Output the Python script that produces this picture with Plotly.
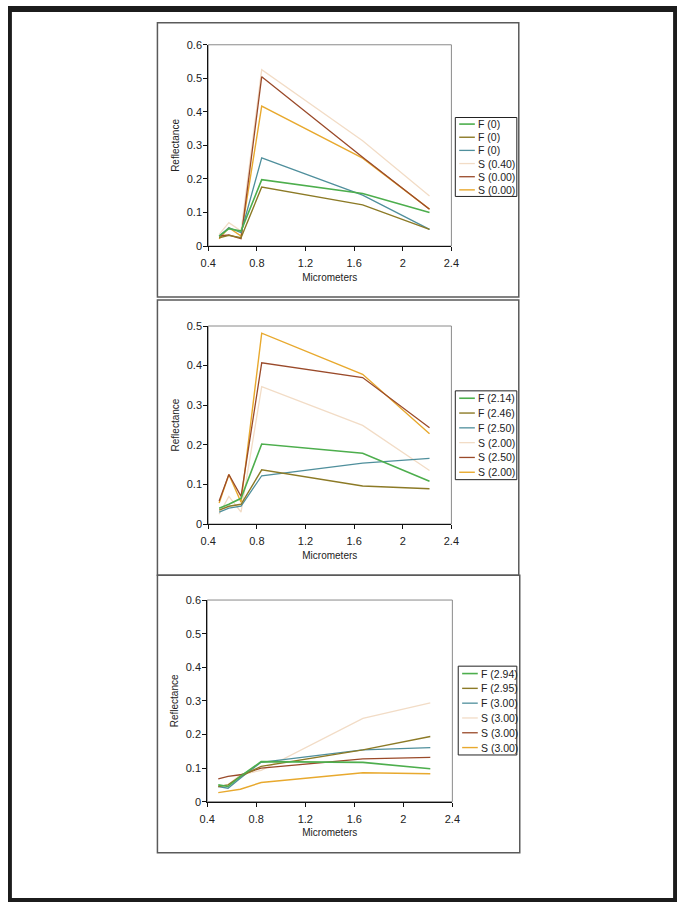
import plotly.graph_objects as go

W, H = 685, 908

# ---------------- data ----------------
wavelength = [0.49, 0.57, 0.67, 0.84, 1.67, 2.22]

series_colors = ["#4dae4d", "#8c7a26", "#4f8f9c", "#f2dcc6", "#9a4a2a", "#e8a92e"]
series_widths = [1.6, 1.4, 1.3, 1.3, 1.3, 1.4]

p1_names = ["F (0)", "F (0)", "F (0)", "S (0.40)", "S (0.00)", "S (0.00)"]
p1_green = [0.030, 0.052, 0.045, 0.198, 0.157, 0.100]
p1_olive = [0.025, 0.032, 0.025, 0.176, 0.123, 0.050]
p1_teal = [0.030, 0.055, 0.040, 0.263, 0.152, 0.050]
p1_beige = [0.035, 0.070, 0.045, 0.526, 0.314, 0.149]
p1_brown = [0.030, 0.033, 0.022, 0.505, 0.265, 0.110]
p1_gold = [0.022, 0.055, 0.030, 0.417, 0.262, 0.110]

p2_names = ["F (2.14)", "F (2.46)", "F (2.50)", "S (2.00)", "S (2.50)", "S (2.00)"]
p2_green = [0.040, 0.050, 0.065, 0.202, 0.179, 0.108]
p2_olive = [0.035, 0.045, 0.050, 0.137, 0.096, 0.089]
p2_teal = [0.030, 0.040, 0.045, 0.122, 0.154, 0.166]
p2_beige = [0.025, 0.070, 0.030, 0.347, 0.249, 0.135]
p2_brown = [0.058, 0.125, 0.070, 0.407, 0.370, 0.243]
p2_gold = [0.053, 0.125, 0.055, 0.482, 0.378, 0.228]

p3_names = ["F (2.94)", "F (2.95)", "F (3.00)", "S (3.00)", "S (3.00)", "S (3.00)"]
p3_green = [0.050, 0.045, 0.075, 0.119, 0.117, 0.098]
p3_olive = [0.045, 0.050, 0.075, 0.105, 0.154, 0.194]
p3_teal = [0.045, 0.040, 0.070, 0.117, 0.154, 0.161]
p3_beige = [0.045, 0.050, 0.080, 0.093, 0.248, 0.294]
p3_brown = [0.068, 0.075, 0.080, 0.100, 0.127, 0.132]
p3_gold = [0.027, 0.032, 0.037, 0.057, 0.086, 0.083]

x_ticks = [0.4, 0.8, 1.2, 1.6, 2.0, 2.4]
x_ticktext = ["0.4", "0.8", "1.2", "1.6", "2", "2.4"]
y_ticks6 = [0, 0.1, 0.2, 0.3, 0.4, 0.5, 0.6]
y_ticks5 = [0, 0.1, 0.2, 0.3, 0.4, 0.5]
x_title = "Micrometers"
y_title = "Reflectance"

panels = [
    dict(names=p1_names, data=[p1_green, p1_olive, p1_teal, p1_beige, p1_brown, p1_gold],
         yrange=[0, 0.6], yticks=y_ticks6,
         plot_px=(205, 454, 39.3, 243.3), box_px=(153, 523, 17, 295),
         leg_px=(458, 521, 113, 193)),
    dict(names=p2_names, data=[p2_green, p2_olive, p2_teal, p2_beige, p2_brown, p2_gold],
         yrange=[0, 0.5], yticks=y_ticks5,
         plot_px=(205, 454, 324.3, 525), box_px=(153, 523, 298, 577),
         leg_px=(458, 521, 390, 480)),
    dict(names=p3_names, data=[p3_green, p3_olive, p3_teal, p3_beige, p3_brown, p3_gold],
         yrange=[0, 0.6], yticks=y_ticks6,
         plot_px=(204, 455, 602, 806.3), box_px=(153, 524, 577, 858),
         leg_px=(461, 521, 669, 759)),
]


def px(x):
    return x / W


def py(y):
    return 1 - y / H


FONT = "Liberation Sans, Arial, sans-serif"
TXT = "#222222"

fig = go.Figure()
shapes = []
annotations = []
layout_axes = {}

for i, p in enumerate(panels):
    k = "" if i == 0 else str(i + 1)
    xa, ya = "x" + k, "y" + k
    order = [3, 5, 4, 2, 1, 0]
    for j in order:
        fig.add_trace(go.Scatter(
            x=wavelength, y=p["data"][j], mode="lines", name=p["names"][j],
            line=dict(color=series_colors[j], width=series_widths[j]),
            xaxis=xa, yaxis=ya, showlegend=False,
            hovertemplate="%{x}, %{y}<extra>" + p["names"][j] + "</extra>"))
    x0, x1, yt, yb = p["plot_px"]
    layout_axes["xaxis" + k] = dict(
        domain=[px(x0), px(x1)], range=[0.4, 2.4], anchor=ya,
        tickmode="array", tickvals=x_ticks, ticktext=x_ticktext,
        showgrid=False, zeroline=False, showline=True, linecolor="#111111", linewidth=1,
        ticks="outside", ticklen=4, tickcolor="#111111", tickwidth=1,
        ticklabelstandoff=3,
        tickfont=dict(family=FONT, size=11, color=TXT),
        title=dict(text=x_title, font=dict(family=FONT, size=10, color=TXT), standoff=5),
        fixedrange=True)
    layout_axes["yaxis" + k] = dict(
        domain=[py(yb), py(yt)], range=p["yrange"], anchor=xa,
        tickmode="array", tickvals=p["yticks"],
        showgrid=False, zeroline=False, showline=True, linecolor="#111111", linewidth=1,
        ticks="outside", ticklen=4, tickcolor="#111111", tickwidth=1,
        ticklabelstandoff=-1,
        tickfont=dict(family=FONT, size=11, color=TXT),
        title=dict(text=y_title, font=dict(family=FONT, size=10, color=TXT), standoff=5),
        fixedrange=True)
    shapes.append(dict(type="rect", xref=xa + " domain", yref=ya + " domain",
                       x0=0, x1=1, y0=0, y1=1, line=dict(color="#8a8a8a", width=1),
                       layer="below"))
    bx0, bx1, by0, by1 = p["box_px"]
    shapes.append(dict(type="rect", xref="paper", yref="paper",
                       x0=px(bx0), x1=px(bx1), y0=py(by1), y1=py(by0),
                       line=dict(color="#5a5a5a", width=1.5)))
    lx0, lx1, ly0, ly1 = p["leg_px"]
    shapes.append(dict(type="rect", xref="paper", yref="paper",
                       x0=px(lx0), x1=px(lx1), y0=py(ly1), y1=py(ly0),
                       line=dict(color="#222222", width=1), fillcolor="white"))
    n = len(p["names"])
    step = (ly1 - ly0) / n
    for j in range(n):
        yy = ly0 + step * (j + 0.5)
        shapes.append(dict(type="line", xref="paper", yref="paper",
                           x0=px(lx0 + 4), x1=px(lx0 + 20), y0=py(yy), y1=py(yy),
                           line=dict(color=series_colors[j], width=series_widths[j])))
        annotations.append(dict(text=p["names"][j], xref="paper", yref="paper",
                                x=px(lx0 + 21), y=py(yy), xanchor="left", yanchor="middle",
                                showarrow=False,
                                font=dict(family=FONT, size=10.5, color=TXT)))

frame_col = "#1c1c1c"
shapes += [
    dict(type="rect", xref="paper", yref="paper", x0=0, x1=1, y0=py(6), y1=1,
         fillcolor=frame_col, line=dict(width=0)),
    dict(type="rect", xref="paper", yref="paper", x0=0, x1=1, y0=0, y1=py(H - 4),
         fillcolor=frame_col, line=dict(width=0)),
    dict(type="rect", xref="paper", yref="paper", x0=0, x1=px(4), y0=0, y1=1,
         fillcolor=frame_col, line=dict(width=0)),
    dict(type="rect", xref="paper", yref="paper", x0=px(W - 4), x1=1, y0=0, y1=1,
         fillcolor=frame_col, line=dict(width=0)),
]

fig.update_layout(
    width=W, height=H, margin=dict(l=0, r=0, t=0, b=0),
    paper_bgcolor="white", plot_bgcolor="white",
    showlegend=False, shapes=shapes, annotations=annotations,
    **layout_axes)

reset_js = (
    "var s=document.createElement('style');"
    "s.textContent='html,body{margin:0!important;padding:0!important;overflow:hidden;}';"
    "document.head.appendChild(s);"
)

fig.write_html("out.html", config={"displayModeBar": False}, post_script=reset_js)
